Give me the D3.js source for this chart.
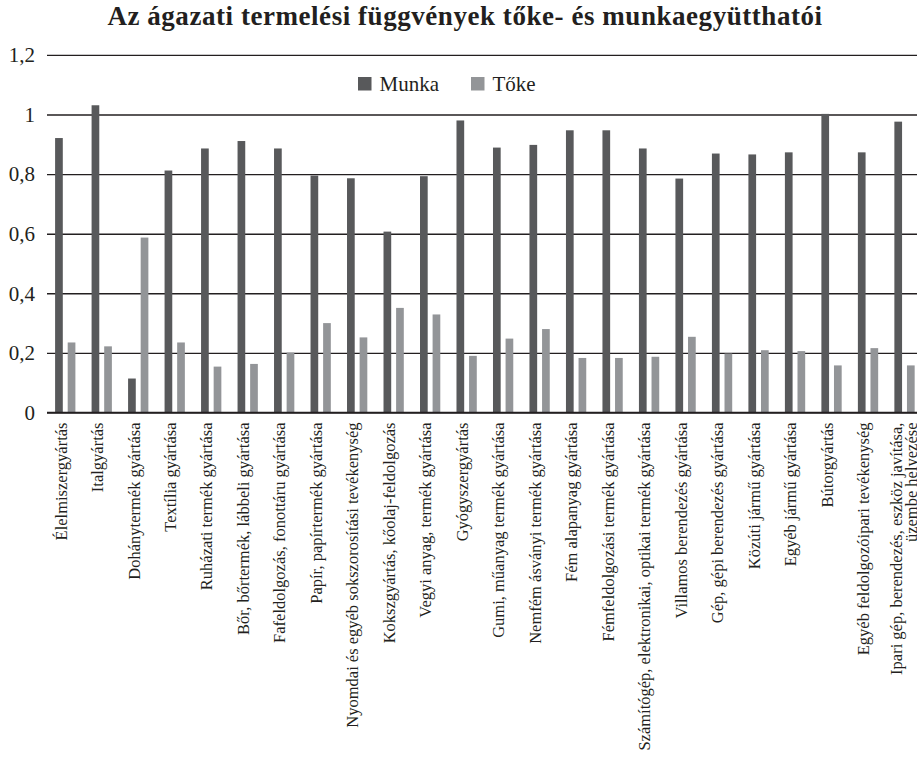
<!DOCTYPE html>
<html lang="hu">
<head>
<meta charset="UTF-8">
<script src="https://d3js.org/d3.v7.min.js"></script>
<style>
  body { margin: 0; background: #fff; overflow: hidden; }
  svg text { font-family: "Liberation Serif", "DejaVu Serif", serif; }
</style>
</head>
<body>
<div id="chart"></div>
<script>
const categories = [
  ["Élelmiszergyártás"],
  ["Italgyártás"],
  ["Dohánytermék gyártása"],
  ["Textília gyártása"],
  ["Ruházati termék gyártása"],
  ["Bőr, bőrtermék, lábbeli gyártása"],
  ["Fafeldolgozás, fonottáru gyártása"],
  ["Papír, papírtermék gyártása"],
  ["Nyomdai és egyéb sokszorosítási tevékenység"],
  ["Kokszgyártás, kőolaj-feldolgozás"],
  ["Vegyi anyag, termék gyártása"],
  ["Gyógyszergyártás"],
  ["Gumi, műanyag termék gyártása"],
  ["Nemfém ásványi termék gyártása"],
  ["Fém alapanyag gyártása"],
  ["Fémfeldolgozási termék gyártása"],
  ["Számítógép, elektronikai, optikai termék gyártása"],
  ["Villamos berendezés gyártása"],
  ["Gép, gépi berendezés gyártása"],
  ["Közúti jármű gyártása"],
  ["Egyéb jármű gyártása"],
  ["Bútorgyártás"],
  ["Egyéb feldolgozóipari tevékenység"],
  ["Ipari gép, berendezés, eszköz javítása,", "üzembe helyezése"]
];
const munka = [0.921, 1.031, 0.114, 0.812, 0.886, 0.911, 0.886, 0.795, 0.786, 0.607, 0.793, 0.980,
               0.889, 0.898, 0.947, 0.947, 0.886, 0.785, 0.869, 0.866, 0.873, 1.002, 0.873, 0.976];
const toke = [0.235, 0.222, 0.587, 0.235, 0.154, 0.163, 0.201, 0.300, 0.252, 0.351, 0.329, 0.190,
              0.248, 0.280, 0.183, 0.183, 0.187, 0.254, 0.198, 0.209, 0.206, 0.158, 0.216, 0.158];
const seriesNames = ["Munka", "Tőke"];
const seriesColors = ["#58595b", "#939598"];
const yTicks = [0, 0.2, 0.4, 0.6, 0.8, 1, 1.2];

const width = 917, height = 760;
const plotLeft = 47, plotRight = 47 + 24 * 36.49;
const plotTop = 54.9, plotBottom = 412.5;
const serif = "'Liberation Serif', 'DejaVu Serif', serif";

const svg = d3.select("#chart").append("svg")
  .attr("width", width)
  .attr("height", height)
  .attr("font-family", serif);

const keys = categories.map((c, i) => i);
const x0 = d3.scaleBand().domain(keys).range([plotLeft, plotRight]).padding(0);
const x1 = d3.scaleBand().domain(seriesNames).range([0, x0.bandwidth()])
  .paddingInner(0.389).paddingOuter(0.643);
const y = d3.scaleLinear().domain([0, 1.2]).range([plotBottom, plotTop]);

// title
svg.append("text")
  .attr("x", 465).attr("y", 25)
  .attr("text-anchor", "middle")
  .attr("font-size", 27).attr("font-weight", "bold")
  .attr("letter-spacing", 0.55)
  .attr("fill", "#231f20")
  .text("Az ágazati termelési függvények tőke- és munkaegyütthatói");

// gridlines + y labels
const yAxis = svg.append("g")
  .attr("transform", `translate(${plotLeft},0)`)
  .call(d3.axisLeft(y).tickValues(yTicks).tickSize(-(plotRight - plotLeft)).tickPadding(12)
    .tickFormat(d => d3.format(".1~f")(d).replace(".", ",")))
  .attr("font-family", serif);
yAxis.select(".domain").remove();
yAxis.selectAll("line").attr("stroke", "#231f20").attr("stroke-width", 1.4);
yAxis.selectAll("text").attr("font-size", 21).attr("fill", "#231f20");

// bars
const data = keys.map(i => ({ i, values: [munka[i], toke[i]] }));
const groups = svg.append("g").selectAll("g").data(data).join("g")
  .attr("transform", d => `translate(${x0(d.i)},0)`);
groups.selectAll("rect")
  .data(d => d.values.map((v, k) => ({ key: seriesNames[k], v, k })))
  .join("rect")
  .attr("x", d => x1(d.key))
  .attr("width", x1.bandwidth())
  .attr("y", d => y(d.v))
  .attr("height", d => y(0) - y(d.v))
  .attr("fill", d => seriesColors[d.k]);

// x axis line on top of bars
svg.append("line")
  .attr("x1", plotLeft).attr("x2", plotRight)
  .attr("y1", y(0)).attr("y2", y(0))
  .attr("stroke", "#231f20").attr("stroke-width", 1.4);

// category labels
const labels = svg.append("g").selectAll("text").data(data).join("text")
  .attr("transform", d => `translate(${x0(d.i) + x0.bandwidth() / 2 - 4.5},${plotBottom + 10}) rotate(-90)`)
  .attr("text-anchor", "end")
  .attr("font-size", 16.5)
  .attr("fill", "#231f20");
labels.each(function(d) {
  const lines = categories[d.i];
  const t = d3.select(this);
  lines.forEach((ln, j) => {
    t.append("tspan")
      .attr("x", 0)
      .attr("dy", j === 0 ? (lines.length > 1 ? "0.1em" : "0.35em") : "0.95em")
      .text(ln);
  });
});

// legend
const legend = svg.append("g");
const legendX = [358, 471];
seriesNames.forEach((s, k) => {
  legend.append("rect")
    .attr("x", legendX[k]).attr("y", 77)
    .attr("width", 13.5).attr("height", 13.5)
    .attr("fill", seriesColors[k]);
  legend.append("text")
    .attr("x", legendX[k] + 21.5).attr("y", 91)
    .attr("font-size", 21).attr("fill", "#231f20")
    .text(s);
});
</script>
</body>
</html>
